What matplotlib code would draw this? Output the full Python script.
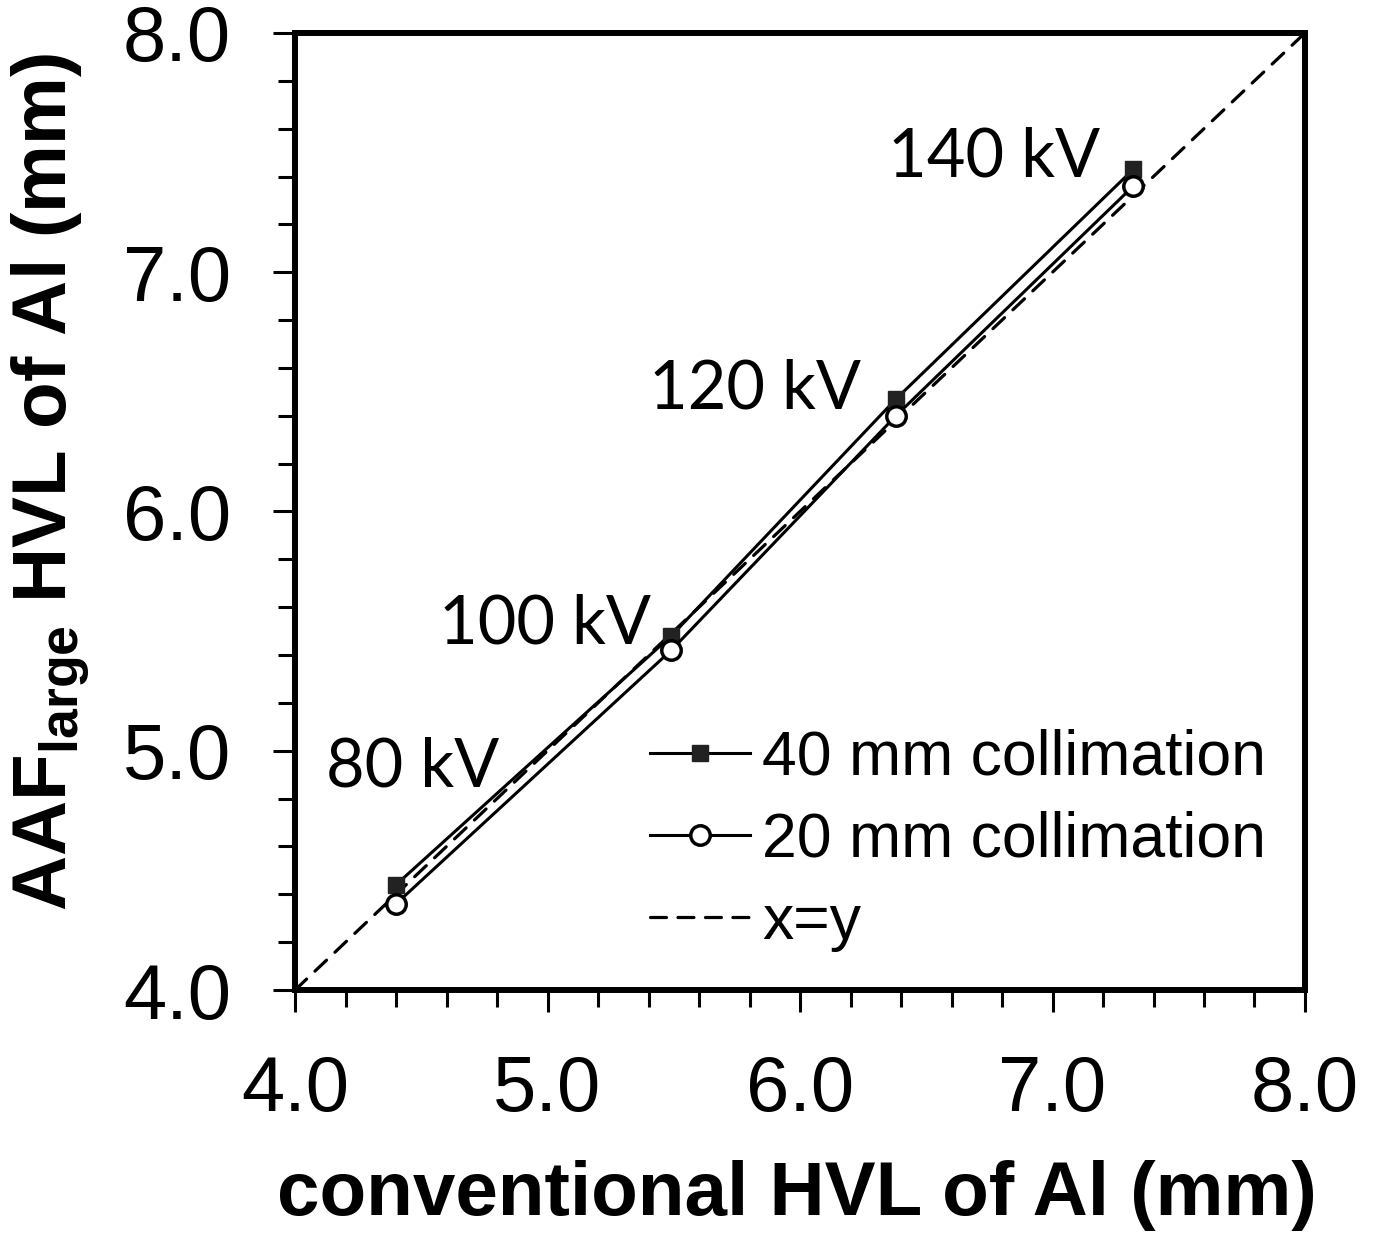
import matplotlib.pyplot as plt
from matplotlib.ticker import MultipleLocator

plt.rcParams["font.family"] = ["Liberation Sans", "DejaVu Sans"]
plt.rcParams["mathtext.fontset"] = "custom"
plt.rcParams["mathtext.rm"] = "Liberation Sans"
plt.rcParams["mathtext.bf"] = "Liberation Sans:bold"

# Data
kv_labels = ["80 kV", "100 kV", "120 kV", "140 kV"]
conv_hvl = [4.40, 5.49, 6.38, 7.32]
aaf_40mm = [4.44, 5.48, 6.47, 7.43]
aaf_20mm = [4.36, 5.42, 6.40, 7.36]
identity = [4.0, 8.0]

# where the kV labels sit (right edge, baseline) in data units
label_x = [4.81, 5.41, 6.24, 7.19]
label_y = [4.85, 5.45, 6.43, 7.40]

fig = plt.figure(figsize=(13.76, 12.43), dpi=100)
ax = fig.add_axes([0.2144, 0.2035, 0.734, 0.770])

ax.plot(conv_hvl, aaf_40mm, color="black", lw=2.2, marker="s", ms=12,
        mfc="#222222", mec="#222222", label="40 mm collimation", zorder=3)
ax.plot(conv_hvl, aaf_20mm, color="black", lw=2.2, marker="o", ms=14,
        mfc="white", mec="black", mew=2.5, label="20 mm collimation", zorder=4)
ax.plot(identity, identity, color="black", lw=2.3, ls=(0, (5, 3.6)),
        dash_capstyle="round", label="x=y", zorder=2)

for lab, lx, ly in zip(kv_labels, label_x, label_y):
    ax.text(lx, ly, lab, ha="right", va="baseline", fontsize=48,
            family=["Lato", "DejaVu Sans"])

ax.set_xlim(4.0, 8.0)
ax.set_ylim(4.0, 8.0)
ax.xaxis.set_major_locator(MultipleLocator(1.0))
ax.yaxis.set_major_locator(MultipleLocator(1.0))
ax.xaxis.set_minor_locator(MultipleLocator(0.2))
ax.yaxis.set_minor_locator(MultipleLocator(0.2))
ax.xaxis.set_major_formatter(lambda v, p: f"{v:.1f}")
ax.yaxis.set_major_formatter(lambda v, p: f"{v:.1f}")

for s in ax.spines.values():
    s.set_linewidth(4.3)
ax.tick_params(which="major", direction="out", length=16, width=2.2,
               labelsize=56, pad=30)
ax.tick_params(which="minor", direction="out", length=12, width=2.2)

ax.set_xlabel("conventional HVL of Al (mm)", fontsize=55, fontweight="bold")
ax.set_ylabel(r"$\mathbf{AAF_{large}}$ HVL of Al (mm)", fontsize=55,
              fontweight="bold")
ax.xaxis.set_label_coords(0.497, -0.178)
ax.yaxis.set_label_coords(-0.202, 0.531)

ax.legend(loc="upper left", bbox_to_anchor=(0.3515, 0.273), frameon=False,
          fontsize=45, handlelength=1.6, handletextpad=0.19, numpoints=1,
          borderpad=0, borderaxespad=0, labelspacing=0.37)

fig.savefig("out.png", dpi=100)
